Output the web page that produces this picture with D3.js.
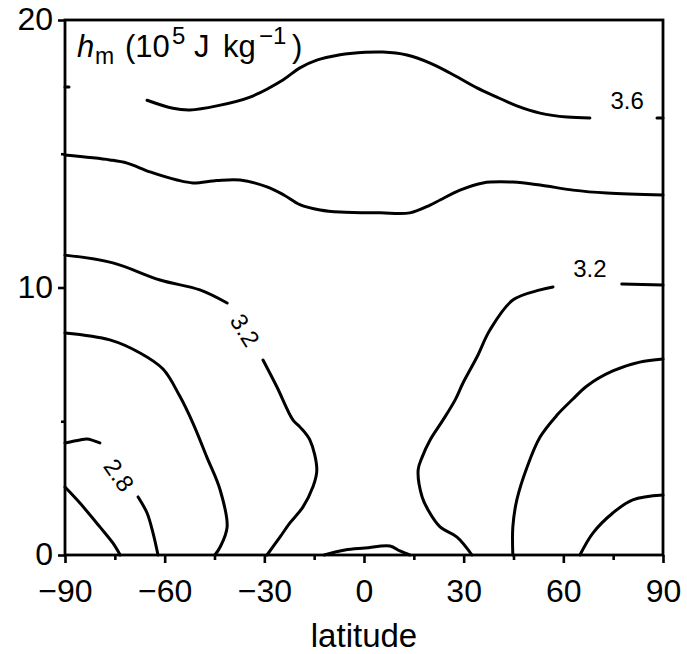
<html>
<head>
  <meta charset="utf-8" />
  <style>
    body { margin: 0; background: #fff; }
    text { font-family: "Liberation Sans", Arial, Helvetica, sans-serif; fill: #000; }
  </style>
</head>
<body>
  <svg id="chart" width="687" height="654"></svg>
</body>
<script src="https://cdn.jsdelivr.net/npm/d3@7"></script>
<script>

// latitude ticks and height ticks
const latTicks = [-90, -60, -30, 0, 30, 60, 90]
const latMinor = [-75, -45, -15, 15, 45, 75]
const zTicks = [0, 10, 20]
const zMinor = [5, 15]

// contour lines, traced as [latitude, height km]
const c36stub = [[-90, 17.5], [-88.8, 17.5]]
const c36 = [[-65.3, 17.0], [-57.5, 16.7], [-52.4, 16.64], [-44.3, 16.79], [-34.3, 17.12], [-24.4, 17.76],
  [-19.3, 18.21], [-14.2, 18.5], [-7.2, 18.7], [-4.2, 18.75], [5.7, 18.8], [12.9, 18.69], [19.9, 18.39],
  [25.9, 18.02], [34.0, 17.46], [40.0, 17.12], [46.0, 16.79], [53.0, 16.52], [61.1, 16.37], [68.0, 16.34]]
const c36end = [[88.2, 16.34], [90, 16.34]]
const c34 = [[-90, 14.95], [-76.5, 14.77], [-71.3, 14.65], [-64.4, 14.32], [-56.3, 14.02], [-51.5, 13.91],
  [-44.3, 14.0], [-37.3, 14.02], [-29.2, 13.76], [-24, 13.45], [-19.3, 13.1], [-13.2, 12.9], [-7.2, 12.82],
  [4.8, 12.79], [13.8, 12.79], [19.9, 13.08], [22.9, 13.27], [28.9, 13.64], [35.8, 13.91], [44.8, 13.94],
  [53.0, 13.83], [62.9, 13.64], [73.1, 13.53], [90, 13.46]]
const c32leftA = [[-90, 11.21], [-75.6, 10.92], [-61.4, 10.28], [-49.4, 9.91], [-41.2, 9.42]]
const c32leftB = [[-30.4, 7.29], [-26.2, 6.28], [-21.4, 5.05], [-19.3, 4.79], [-16.3, 4.30], [-14.2, 3.18],
  [-15.4, 2.54], [-18.4, 1.79], [-22.3, 1.20], [-25.3, 0.67], [-29.2, 0]]
const c32rightA = [[32.5, 0], [28.0, 0.67], [22.9, 1.05], [19.3, 1.68], [17.5, 2.17], [16.3, 3.18], [17.5, 3.66],
  [19.9, 4.30], [23.8, 5.05], [27.4, 5.79], [29.8, 6.43], [34.0, 7.40], [37.9, 8.41], [44.8, 9.53],
  [53.0, 9.91], [56.9, 10.02]]
const c32rightB = [[77.6, 10.13], [90, 10.09]]
const c30left = [[-90, 8.30], [-76.5, 8.04], [-67.4, 7.55], [-60.5, 6.95], [-55.5, 5.95], [-51.5, 4.93],
  [-47.3, 3.66], [-43.3, 2.43], [-41.2, 1.05], [-43.3, 0.30], [-44.9, 0]]
const c30right = [[44.8, 0], [44.8, 1.05], [46.0, 2.06], [49.1, 3.29], [53.0, 4.41], [58.1, 5.23],
  [62.9, 5.83], [67.1, 6.32], [74.9, 6.88], [83.0, 7.21], [90, 7.33]]
const c28stub = [[-90, 4.19], [-85.5, 4.30], [-83.4, 4.34], [-79.5, 4.19]]
const c28left = [[-68.0, 2.17], [-65.3, 1.57], [-63.5, 0.82], [-62.0, 0]]
const c26left = [[-90, 2.54], [-85.5, 1.94], [-79.5, 1.05], [-75.6, 0.45], [-73.4, 0]]
const c28right = [[65.0, 0], [68.9, 0.82], [74.9, 1.57], [80.9, 2.06], [90, 2.24]]
const cEq = [[-12, 0], [-5.7, 0.19], [0.3, 0.26], [7.8, 0.34], [10.8, 0.15], [13.8, 0]]

const contourLines = [c36stub, c36, c36end, c34, c32leftA, c32leftB, c32rightA, c32rightB,
  c30left, c30right, c28stub, c28left, c26left, c28right, cEq]

// inline labels: text, lat, height, rotation
const labelText = ['3.6', '3.2', '3.2', '2.8']
const labelLat = [79.2, 68.0, -35.8, -73.7]
const labelZ = [17.0, 10.73, 8.41, 2.99]
const labelRot = [0, 0, 58, 55]

const svg = d3.select('#chart')
const x = d3.scaleLinear().domain([-90, 90]).range([65, 663])
const y = d3.scaleLinear().domain([0, 20]).range([555, 20])

const line = d3.line()
  .x(d => x(d[0]))
  .y(d => y(d[1]))
  .curve(d3.curveCatmullRom)

svg.append('g')
  .selectAll('path')
  .data(contourLines)
  .enter().append('path')
  .attr('d', line)
  .attr('fill', 'none')
  .attr('stroke', '#000')
  .attr('stroke-width', 3)
  .attr('stroke-linecap', 'round')

svg.append('g')
  .selectAll('text')
  .data(labelText)
  .enter().append('text')
  .attr('transform', (d, i) => `translate(${x(labelLat[i])},${y(labelZ[i])}) rotate(${labelRot[i]})`)
  .attr('text-anchor', 'middle')
  .attr('dy', '0.36em')
  .attr('font-size', 24)
  .text(d => d)

// axes
function styleAxis(g, size) {
  g.select('.domain').remove()
  g.selectAll('line').attr('stroke', '#000').attr('stroke-width', 2.6)
  g.selectAll('text').attr('font-size', size).attr('fill', '#000')
}

svg.append('g')
  .attr('transform', 'translate(0,555)')
  .call(d3.axisBottom(x).tickValues(latMinor).tickSize(5).tickFormat(''))
  .call(g => styleAxis(g, 0))
svg.append('g')
  .attr('transform', 'translate(0,555)')
  .call(d3.axisBottom(x).tickValues(latTicks).tickSize(8).tickPadding(16))
  .call(g => styleAxis(g, 32))

svg.append('g')
  .attr('transform', 'translate(65,0)')
  .call(d3.axisLeft(y).tickValues(zMinor).tickSize(4).tickFormat(''))
  .call(g => styleAxis(g, 0))
svg.append('g')
  .attr('transform', 'translate(65,0)')
  .call(d3.axisLeft(y).tickValues(zTicks).tickSize(7).tickPadding(5))
  .call(g => styleAxis(g, 32))
  .call(g => g.selectAll('text').attr('dy', '0.3em'))

svg.append('rect')
  .attr('x', x(-90)).attr('y', y(20))
  .attr('width', x(90) - x(-90)).attr('height', y(0) - y(20))
  .attr('fill', 'none')
  .attr('stroke', '#000')
  .attr('stroke-width', 2.8)

svg.append('text')
  .attr('x', (x(-90) + x(90)) / 2)
  .attr('y', 647)
  .attr('text-anchor', 'middle')
  .attr('font-size', 33)
  .text('latitude')

// title inside the frame
const title = svg.append('text')
  .attr('x', 77)
  .attr('y', 57)
  .attr('font-size', 31)
title.append('tspan').attr('font-style', 'italic').text('h')
title.append('tspan').attr('font-size', 23).attr('x', 95).attr('dy', 7).text('m')
title.append('tspan').attr('x', 125).attr('dy', -7).text('(10')
title.append('tspan').attr('font-size', 24).attr('x', 172).attr('dy', -13).text('5')
title.append('tspan').attr('x', 194).attr('dy', 13).text('J')
title.append('tspan').attr('x', 223).text('kg')
title.append('tspan').attr('font-size', 24).attr('x', 259).attr('dy', -13).text('−1')
title.append('tspan').attr('x', 292).attr('dy', 13).text(')')

</script>
</html>
